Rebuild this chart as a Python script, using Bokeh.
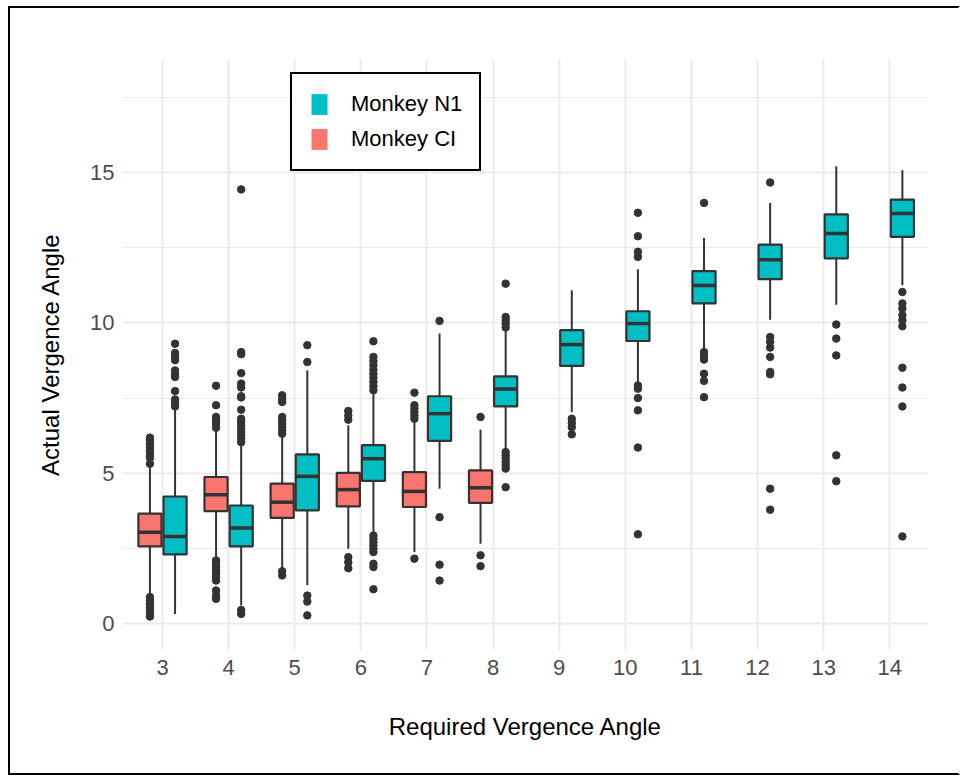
from bokeh.plotting import figure
from bokeh.models import ColumnDataSource, FixedTicker, Range1d
from bokeh.embed import file_html
from bokeh.resources import INLINE

# required vergence angles (x categories)
angles = [3, 4, 5, 6, 7, 8, 9, 10, 11, 12, 13, 14]

# Monkey CI box stats (angles 3-8)
ci_angles = [3, 4, 5, 6, 7, 8]
ci_q1 = [2.56, 3.73, 3.51, 3.89, 3.87, 4.01]
ci_med = [3.03, 4.28, 4.03, 4.45, 4.39, 4.51]
ci_q3 = [3.65, 4.87, 4.65, 5.01, 5.03, 5.09]
ci_lo = [0.92, 2.15, 1.81, 2.48, 2.37, 2.65]
ci_hi = [5.20, 6.45, 6.20, 6.59, 6.78, 6.45]
ci_outliers = [
    [6.18, 6.07, 5.96, 5.85, 5.73, 5.62, 5.51, 5.31, 0.87, 0.76, 0.64, 0.53, 0.42, 0.31, 0.22],
    [7.91, 7.26, 6.87, 6.76, 6.65, 6.51, 2.09, 1.98, 1.87, 1.76, 1.65, 1.53, 1.42, 1.09, 0.92, 0.81],
    [7.59, 7.48, 7.37, 6.87, 6.76, 6.65, 6.54, 6.42, 6.31, 1.73, 1.59],
    [7.07, 6.92, 6.78, 2.20, 2.03, 1.83],
    [7.68, 7.26, 7.15, 7.04, 6.92, 6.81, 2.15],
    [6.87, 2.26, 1.90],
]

# Monkey N1 box stats (angles 3-14)
n1_angles = angles
n1_q1 = [2.29, 2.56, 3.76, 4.74, 6.07, 7.22, 8.57, 9.40, 10.65, 11.46, 12.15, 12.87]
n1_med = [2.89, 3.17, 4.89, 5.48, 6.98, 7.80, 9.28, 9.98, 11.25, 12.11, 12.98, 13.65]
n1_q3 = [4.22, 3.92, 5.62, 5.93, 7.56, 8.22, 9.76, 10.39, 11.73, 12.61, 13.62, 14.11]
n1_lo = [0.31, 0.59, 1.26, 2.98, 4.48, 5.78, 7.03, 7.98, 9.09, 10.11, 10.61, 11.26]
n1_hi = [7.15, 5.92, 8.42, 7.65, 9.65, 9.76, 11.09, 11.79, 12.83, 14.00, 15.22, 15.09]
n1_outliers = [
    [9.31, 9.00, 8.89, 8.76, 8.42, 8.29, 8.20, 7.73, 7.45, 7.33, 7.22],
    [14.45, 9.03, 8.96, 8.33, 7.98, 7.85, 7.56, 7.52, 7.11, 6.81, 6.70, 6.59, 6.48, 6.37,
     6.26, 6.14, 6.03, 0.44, 0.31],
    [9.26, 8.70, 0.92, 0.72, 0.26],
    [9.39, 8.87, 8.73, 8.59, 8.45, 8.31, 8.18, 8.04, 7.89, 7.76, 2.92, 2.81, 2.70, 2.59,
     2.48, 2.37, 1.98, 1.87, 1.13],
    [10.07, 3.53, 1.95, 1.42],
    [11.31, 10.20, 10.09, 9.98, 9.85, 5.70, 5.59, 5.48, 5.37, 5.26, 5.15, 4.53],
    [6.81, 6.67, 6.53, 6.29],
    [13.67, 12.89, 12.37, 12.20, 7.92, 7.81, 7.50, 7.09, 5.85, 2.96],
    [14.00, 9.03, 8.92, 8.78, 8.31, 8.07, 7.53],
    [14.68, 9.53, 9.37, 9.18, 8.87, 8.37, 8.29, 4.48, 3.78],
    [9.95, 9.48, 8.92, 5.59, 4.73],
    [11.03, 10.65, 10.48, 10.26, 10.09, 9.89, 8.51, 7.85, 7.22, 2.89],
]

CI_COLOR = "#F8766D"
N1_COLOR = "#00BFC4"
EDGE = "#333333"
GRID = "#EBEBEB"
BOX_W = 0.35
DODGE = 0.19
FONT = "Liberation Sans"
NAN = float("nan")

p = figure(width=952, height=769, output_backend="svg", toolbar_location=None,
           x_range=Range1d(2.395, 14.585), y_range=Range1d(-0.91, 18.81),
           min_border_left=112, min_border_right=34, min_border_top=50, min_border_bottom=127)
p.outline_line_color = None
p.background_fill_color = "white"
p.border_fill_color = "white"
p.styles = {"margin-left": "8px", "margin-top": "6px",
            "border-left": "2px solid black", "border-top": "2px solid black",
            "border-bottom": "2px solid black", "border-right": "2px solid white"}


def draw_boxes(xs, q1, med, q3, lo, hi, outliers, offset, color):
    x = [a + offset for a in xs]
    src = ColumnDataSource(data=dict(
        x=x, q1=q1, med=med, q3=q3, lo=lo, hi=hi,
        left=[v - BOX_W / 2 for v in x], right=[v + BOX_W / 2 for v in x]))
    p.segment("x", "q3", "x", "hi", source=src, line_color=EDGE, line_width=2)
    p.segment("x", "q1", "x", "lo", source=src, line_color=EDGE, line_width=2)
    p.vbar(x="x", width=BOX_W, bottom="q1", top="q3", source=src,
           fill_color=color, line_color=EDGE, line_width=2.2)
    p.segment("left", "med", "right", "med", source=src, line_color=EDGE, line_width=3.5)
    ox, oy = [], []
    for xv, vals in zip(x, outliers):
        ox += [xv] * len(vals)
        oy += vals
    p.scatter(ox, oy, size=7.5, color=EDGE)


draw_boxes(ci_angles, ci_q1, ci_med, ci_q3, ci_lo, ci_hi, ci_outliers, -DODGE, CI_COLOR)
draw_boxes(n1_angles, n1_q1, n1_med, n1_q3, n1_lo, n1_hi, n1_outliers, DODGE, N1_COLOR)

# legend swatches without outline (NaN data so nothing is drawn in the plot)
p.quad(left=[NAN], right=[NAN], bottom=[NAN], top=[NAN], fill_color=N1_COLOR,
       line_color=None, legend_label="Monkey N1")
p.quad(left=[NAN], right=[NAN], bottom=[NAN], top=[NAN], fill_color=CI_COLOR,
       line_color=None, legend_label="Monkey CI")

leg = p.legend[0]
leg.location = (168, 479)
leg.margin = 0
leg.padding = 17
leg.spacing = 9
leg.glyph_width = 20
leg.glyph_height = 26
leg.label_height = 26
leg.label_standoff = 22
leg.label_text_font = FONT
leg.label_text_font_size = "22px"
leg.label_text_color = "black"
leg.border_line_color = "black"
leg.border_line_alpha = 1.0
leg.border_line_width = 2
leg.background_fill_color = "white"
leg.background_fill_alpha = 1.0

# axes
p.xaxis.ticker = FixedTicker(ticks=angles)
p.yaxis.ticker = FixedTicker(ticks=[0, 5, 10, 15], minor_ticks=[2.5, 7.5, 12.5, 17.5])
p.xaxis.axis_label = "Required Vergence Angle"
p.yaxis.axis_label = "Actual Vergence Angle"
for ax in (p.xaxis, p.yaxis):
    ax.axis_line_color = None
    ax.major_tick_line_color = None
    ax.minor_tick_line_color = None
    ax.major_tick_out = 0
    ax.major_tick_in = 0
    ax.major_label_text_font = FONT
    ax.major_label_text_font_size = "22px"
    ax.major_label_text_color = "#4D4D4D"
    ax.axis_label_text_font = FONT
    ax.axis_label_text_font_size = "24px"
    ax.axis_label_text_font_style = "normal"
    ax.axis_label_text_color = "black"
p.xaxis.major_label_standoff = 9
p.xaxis.axis_label_standoff = 35
p.yaxis.major_label_standoff = 4
p.yaxis.axis_label_standoff = 23

# grid
p.xgrid.grid_line_color = GRID
p.xgrid.grid_line_width = 2
p.ygrid.grid_line_color = GRID
p.ygrid.grid_line_width = 2
p.ygrid.minor_grid_line_color = GRID
p.ygrid.minor_grid_line_width = 1.2

open("out.html", "w").write(file_html(p, INLINE))
